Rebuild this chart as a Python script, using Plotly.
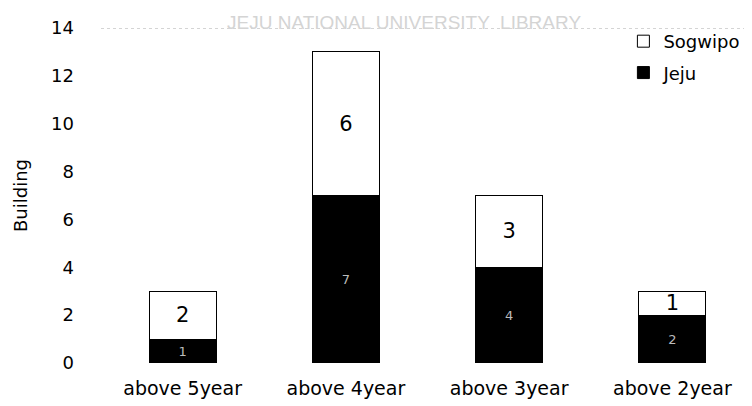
import plotly.graph_objects as go

categories = ["above 5year", "above 4year", "above 3year", "above 2year"]
jeju = [1, 7, 4, 2]
sogwipo = [2, 6, 3, 1]
y_ticks = [0, 2, 4, 6, 8, 10, 12, 14]

FONT = "DejaVu Sans, sans-serif"

fig = go.Figure()
fig.add_trace(go.Bar(
    x=categories, y=jeju, name="Jeju", legendgroup="j", legendrank=2,
    marker=dict(color="#000000", line=dict(color="#000000", width=1)),
    text=jeju, textposition="inside", insidetextanchor="middle",
    textangle=0, constraintext="none",
    textfont=dict(color="#BBBBBB", size=13, family=FONT),
))
fig.add_trace(go.Bar(
    x=categories, y=sogwipo, name="Sogwipo", legendgroup="s", legendrank=1,
    marker=dict(color="#FFFFFF", line=dict(color="#000000", width=1)),
    text=sogwipo, textposition="inside", insidetextanchor="middle",
    textangle=0, constraintext="none",
    textfont=dict(color="#000000", size=21, family=FONT),
))

fig.update_layout(
    width=752, height=406,
    barmode="stack", bargap=0.59,
    plot_bgcolor="white", paper_bgcolor="white",
    font=dict(family=FONT, size=18, color="#000000"),
    margin=dict(l=93, r=6, t=20, b=51),
    legend=dict(
        traceorder="grouped", x=0.80, y=1.015, xanchor="left", yanchor="top",
        font=dict(size=18), bgcolor="rgba(0,0,0,0)",
        itemwidth=30, tracegroupgap=5,
    ),
    xaxis=dict(showline=False, ticks="", tickfont=dict(size=19), ticklabelstandoff=12),
    yaxis=dict(
        range=[0, 14], tickvals=y_ticks, showgrid=False, zeroline=False,
        showline=False, ticks="", tickfont=dict(size=18), ticklabelstandoff=26,
        title=dict(text="Building", font=dict(size=18), standoff=18),
    ),
    shapes=[dict(
        type="line", xref="paper", yref="y", x0=0, x1=1, y0=14, y1=14,
        line=dict(color="#AAAAAA", width=1, dash="dot"),
    )],
    annotations=[dict(
        text="JEJU NATIONAL UNIVERSITY  LIBRARY", xref="paper", yref="paper",
        x=0.464, y=1.016, xanchor="center", yanchor="middle", showarrow=False,
        font=dict(size=19, color="#D4D4D4", family="Liberation Sans Narrow, Liberation Sans, sans-serif"),
    )],
)

fig.write_html("out.html")
